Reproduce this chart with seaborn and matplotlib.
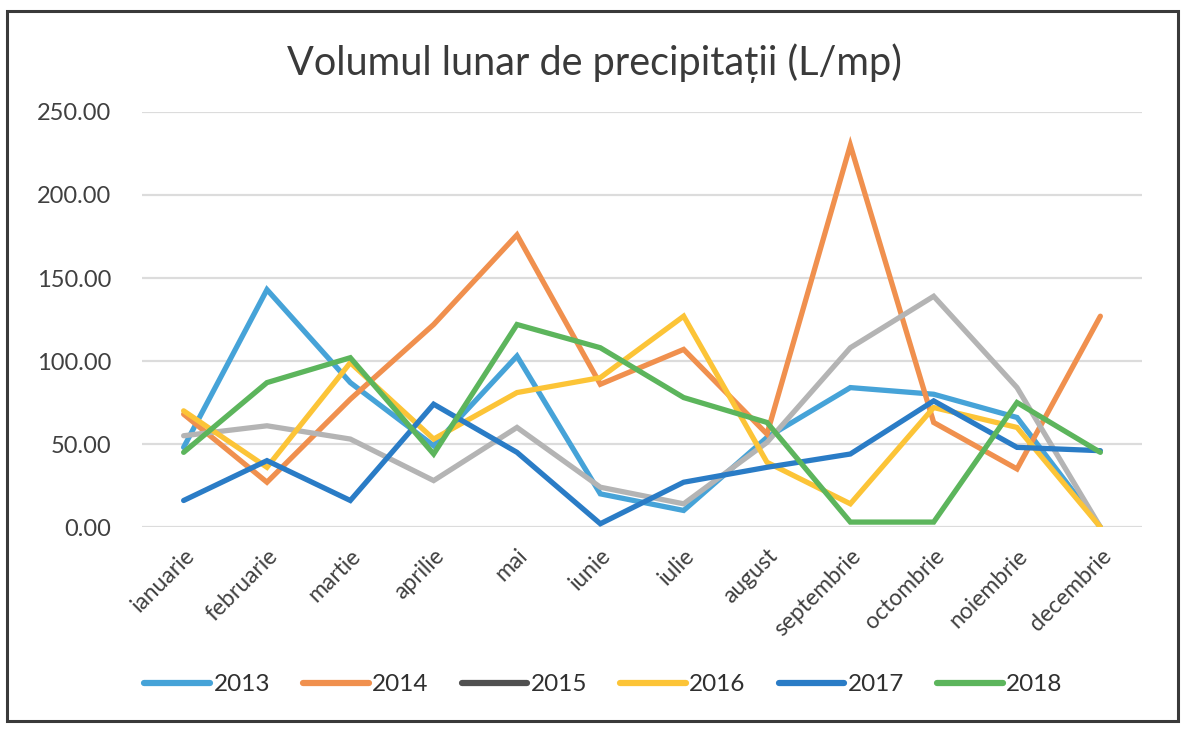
import matplotlib
matplotlib.use("Agg")
import matplotlib.pyplot as plt
from matplotlib.lines import Line2D
from matplotlib.patches import Rectangle
import seaborn as sns
import pandas as pd

months = ["ianuarie", "februarie", "martie", "aprilie", "mai", "iunie",
          "iulie", "august", "septembrie", "octombrie", "noiembrie", "decembrie"]
years = ["2013", "2014", "2015", "2016", "2017", "2018"]

v2013 = [48, 143, 87, 49, 103, 20, 10, 54, 84, 80, 66, 0]
v2014 = [68, 27, 77, 122, 176, 86, 107, 56, 230, 63, 35, 127]
v2015 = [55, 61, 53, 28, 60, 24, 14, 51, 108, 139, 84, 0]
v2016 = [70, 36, 99, 53, 81, 90, 127, 39, 14, 72, 60, 0]
v2017 = [16, 40, 16, 74, 45, 2, 27, 36, 44, 76, 48, 46]
v2018 = [45, 87, 102, 44, 122, 108, 78, 63, 3, 3, 75, 45]

line_colors = {"2013": "#46A3D8", "2014": "#F0904E", "2015": "#B4B4B4",
               "2016": "#FCC437", "2017": "#2A7CC6", "2018": "#5CB55C"}
legend_colors = dict(line_colors, **{"2015": "#505050"})

series = [v2013, v2014, v2015, v2016, v2017, v2018]
rows = []
for y, vals in zip(years, series):
    for m, v in zip(months, vals):
        rows.append({"month": m, "value": v, "year": y})
df = pd.DataFrame(rows)

sns.set_theme(style="white")
plt.rcParams["font.family"] = ["Lato", "DejaVu Sans"]

fig = plt.figure(figsize=(11.88, 7.30), dpi=100)
ax = fig.add_axes([0.1195, 0.278, 0.8418, 0.5686])

sns.lineplot(data=df, x="month", y="value", hue="year", palette=line_colors,
             hue_order=years, sort=False, linewidth=3.8, legend=False, ax=ax)
for ln in ax.lines:
    ln.set_solid_joinstyle("miter")

ax.set_xlim(-0.5, 11.5)
ax.set_ylim(0, 250)
ax.set_yticks([0, 50, 100, 150, 200, 250])
ax.set_yticklabels([f"{t:.2f}" for t in [0, 50, 100, 150, 200, 250]],
                   fontsize=17, color="#404040")
ax.set_xticks(range(len(months)))
ax.set_xticklabels(months, rotation=45, ha="right", rotation_mode="anchor",
                   fontsize=16.5, color="#404040")
ax.tick_params(axis="y", length=0, pad=22)
ax.tick_params(axis="x", length=0, pad=13)
ax.yaxis.grid(True, color="#DCDCDC", linewidth=1.6)
ax.set_axisbelow(True)
for s in ax.spines.values():
    s.set_visible(False)
ax.set_xlabel("")
ax.set_ylabel("")

fig.text(0.5, 0.913, "Volumul lunar de precipitații (L/mp)", ha="center",
         va="center", fontsize=28.5, color="#3A3A3A")

handles = [Line2D([0], [0], color=legend_colors[y], lw=4.5, solid_capstyle="round")
           for y in years]
fig.legend(handles, years, loc="center", bbox_to_anchor=(0.508, 0.062), ncol=6,
           frameon=False, fontsize=17.5, handlelength=2.7, handletextpad=0.15,
           columnspacing=1.35, labelcolor="#303030")

fig.patches.append(Rectangle((0.006, 0.012), 0.986, 0.973, transform=fig.transFigure,
                             fill=False, edgecolor="#3A3A3A", linewidth=2.2))

fig.savefig("out.png", dpi=100)
